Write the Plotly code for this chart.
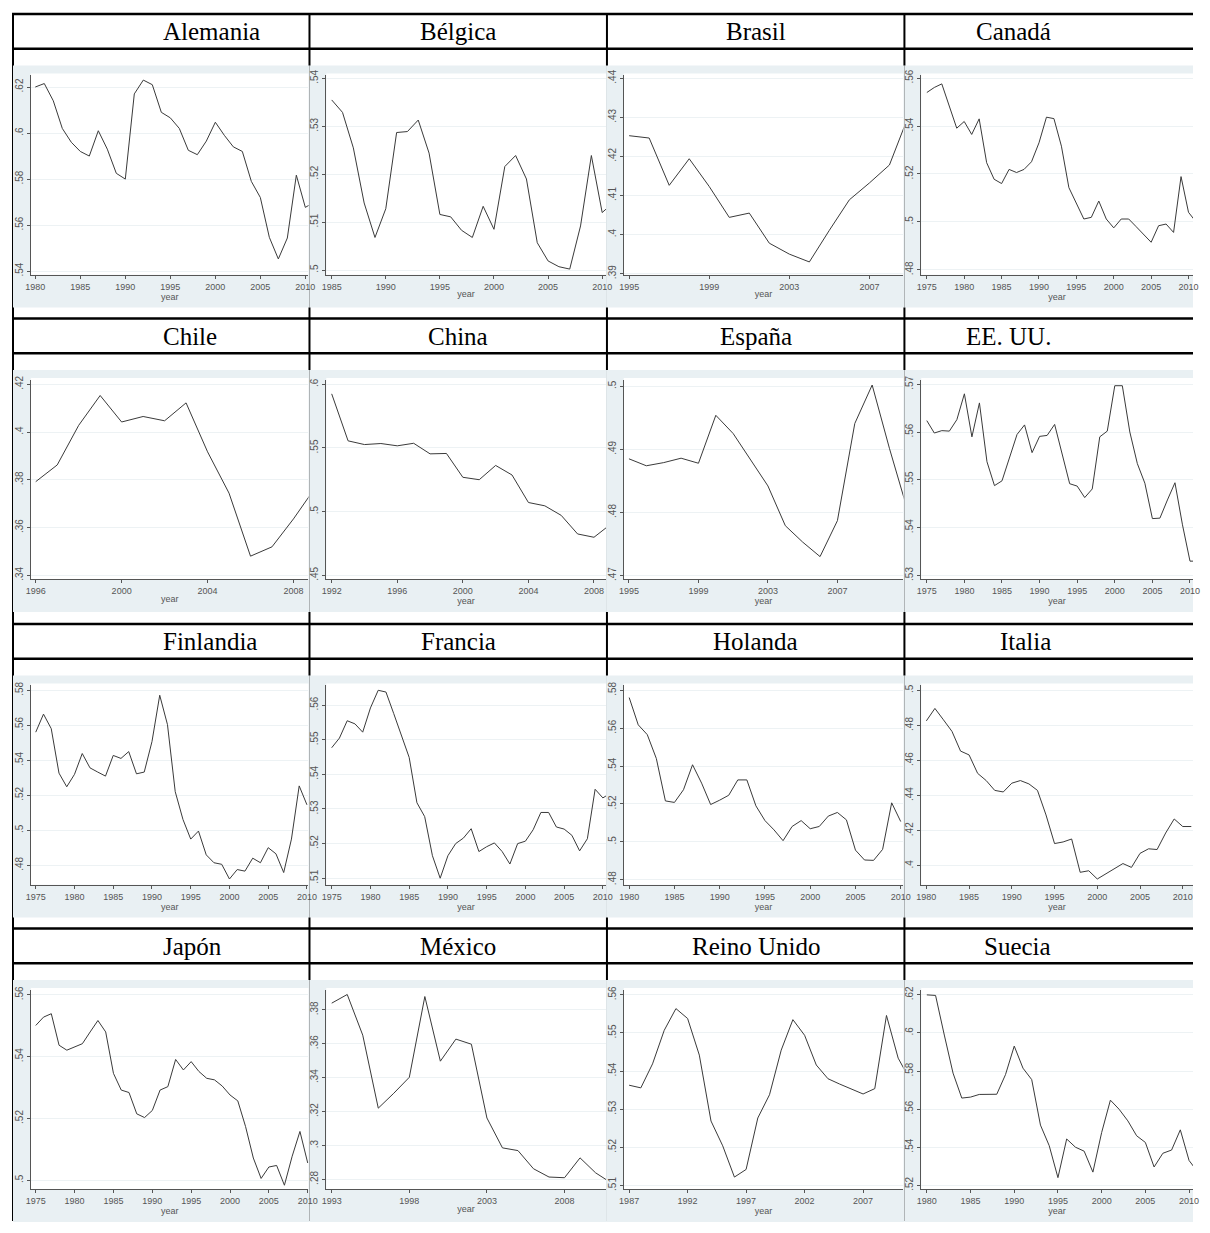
import plotly.graph_objects as go

W, H = 1194, 1217   # fits inside the window next to the page's 8px body margin
OFF = 8

# --- data ---
countries = ["Alemania", "Bélgica", "Brasil", "Canadá",
             "Chile", "China", "España", "EE. UU.",
             "Finlandia", "Francia", "Holanda", "Italia",
             "Japón", "México", "Reino Unido", "Suecia"]
start_years = [1980, 1985, 1995, 1975,
               1996, 1992, 1995, 1975,
               1975, 1975, 1980, 1980,
               1975, 1993, 1987, 1980]

alemania = [.620, .6215, .614, .602, .596, .592, .590, .601, .593, .5825, .580,
            .617, .623, .621, .609, .6066, .602, .5925, .5906, .5965, .6047,
            .599, .594, .592, .579, .572, .5547, .5453, .5544, .5817, .5677, .570]
belgica = [.5355, .5329, .5255, .514, .5068, .5128, .5287, .5289, .5313, .5244,
           .5116, .5111, .5083, .5068, .5133, .5085, .5216, .5239, .519, .5057,
           .5019, .5007, .5002, .5092, .5239, .512, .514]
brasil = [.4253, .4247, .4126, .4194, .4123, .4044, .4055, .3978, .395, .393,
          .4011, .4089, .4132, .4178, .431]
canada = [.554, .5561, .5576, .5482, .5391, .5419, .5365, .543, .5247, .5178,
          .516, .5219, .5206, .5219, .5251, .533, .5437, .5431, .5316, .5143,
          .5074, .5012, .5019, .5087, .5012, .4975, .5012, .5012, .498, .4948,
          .4915, .4984, .4991, .4956, .5189, .504, .500]
chile = [.3792, .3862, .4028, .4153, .4042, .4065, .4047, .4122, .3917, .3744,
         .348, .3519, .3636, .3765]
china = [.5925, .5556, .5527, .5535, .5517, .5537, .5454, .5457, .527, .5251,
         .5363, .5288, .5072, .5046, .4971, .4825, .4799, .490]
espana = [.4885, .4874, .4879, .4886, .4878, .4954, .4925, .4883, .4842, .4779,
          .4753, .473, .4787, .4941, .5002, .4901, .4807]
eeuu = [.5624, .5598, .5603, .5602, .5626, .568, .559, .5661, .5538, .5488,
        .5498, .5545, .5595, .5615, .5557, .5591, .5593, .5616, .5555, .5492,
        .5487, .5463, .5481, .559, .5602, .5697, .5697, .560, .5534, .5493,
        .5419, .542, .5458, .5494, .5406, .533, .533]
finlandia = [.5561, .5664, .5581, .5327, .5249, .532, .5439, .5357, .5333, .531,
             .5428, .5411, .545, .5323, .5333, .5507, .5772, .5604, .5221, .5062,
             .495, .4996, .486, .4815, .4806, .4722, .4776, .4767, .4841, .4815,
             .4901, .4866, .4759, .495, .5254, .5146]
francia = [.5477, .5505, .5555, .5546, .5522, .5592, .5643, .5638, .5576, .5515,
           .5449, .5318, .5278, .5165, .510, .5165, .520, .5216, .5243, .5177,
           .5191, .5202, .5177, .5141, .520, .5207, .524, .529, .529, .5248,
           .5242, .5224, .5179, .5214, .5357, .5332, .5346]
holanda = [.5762, .5618, .5566, .544, .5216, .5208, .5275, .5407, .531, .5197,
           .522, .5246, .5327, .5327, .519, .5112, .5063, .5006, .5081, .5112,
           .5069, .5081, .5136, .5155, .5116, .4956, .4904, .4902, .496, .5206,
           .5107]
italia = [.4826, .4897, .4832, .4766, .4654, .4632, .4527, .4486, .443, .4421,
          .4471, .4486, .4467, .443, .429, .4127, .4136, .4153, .3963, .3972,
          .3925, .3953, .3985, .4013, .3991, .4071, .4097, .4093, .4187, .4267,
          .4224, .4224]
japon = [.5501, .5528, .5539, .5437, .5421, .5432, .5442, .548, .5517, .548,
         .5346, .5292, .5284, .5215, .5203, .5226, .5292, .5303, .5391, .5357,
         .5384, .5352, .533, .5325, .5305, .5276, .5257, .5174, .5072, .5006,
         .5043, .5048, .4984, .5078, .5158, .5056]
mexico = [.3839, .389, .365, .322, .3308, .3402, .3878, .3497, .3627, .3597,
          .3162, .2986, .297, .2863, .2814, .281, .2927, .2839, .278]
reino_unido = [.5363, .5356, .5419, .5507, .5564, .5538, .5442, .5269, .5204,
               .5122, .5142, .5277, .5338, .5455, .5535, .5494, .5416, .538,
               .5366, .5353, .534, .5354, .5546, .5434, .5378]
suecia = [.620, .6197, .5989, .5789, .5658, .5663, .5677, .5678, .5678, .5781,
          .5931, .5815, .5755, .5516, .5408, .524, .5443, .540, .5379, .5269,
          .5477, .5647, .5599, .5538, .546, .5425, .5296, .5368, .5385, .5491,
          .533, .527]
series = [alemania, belgica, brasil, canada, chile, china, espana, eeuu,
          finlandia, francia, holanda, italia, japon, mexico, reino_unido, suecia]

x_ticks = [list(range(1980, 2011, 5)), list(range(1985, 2011, 5)),
           [1995, 1999, 2003, 2007], list(range(1975, 2011, 5)),
           [1996, 2000, 2004, 2008], [1992, 1996, 2000, 2004, 2008],
           [1995, 1999, 2003, 2007], list(range(1975, 2011, 5)),
           list(range(1975, 2011, 5)), list(range(1975, 2011, 5)),
           list(range(1980, 2011, 5)), list(range(1980, 2011, 5)),
           list(range(1975, 2011, 5)), [1993, 1998, 2003, 2008],
           [1987, 1992, 1997, 2002, 2007], list(range(1980, 2011, 5))]
y_ticks = [[.54, .56, .58, .60, .62], [.50, .51, .52, .53, .54],
           [.39, .40, .41, .42, .43, .44], [.48, .50, .52, .54, .56],
           [.34, .36, .38, .40, .42], [.45, .50, .55, .60],
           [.47, .48, .49, .50], [.53, .54, .55, .56, .57],
           [.48, .50, .52, .54, .56, .58], [.51, .52, .53, .54, .55, .56],
           [.48, .50, .52, .54, .56, .58], [.40, .42, .44, .46, .48, .50],
           [.50, .52, .54, .56], [.28, .30, .32, .34, .36, .38],
           [.51, .52, .53, .54, .55, .56], [.52, .54, .56, .58, .60, .62]]
x_ranges = [[1979.5, 2010.35], [1984.5, 2010.35], [1994.73, 2008.7], [1974.25, 2010.6],
            [1995.77, 2008.7], [1991.67, 2008.73], [1994.7, 2010.8], [1974.26, 2010.4],
            [1974.36, 2010.2], [1974.3, 2010.4], [1979.4, 2010.3], [1979.4, 2011.2],
            [1974.36, 2010.1], [1992.65, 2010.67], [1986.54, 2010.45], [1979.36, 2010.45]]
y_ranges = [[.5384, .625], [.499, .5406], [.3897, .4407], [.4779, .5611],
            [.3383, .4218], [.4469, .6034], [.4694, .501], [.5292, .5709],
            [.4689, .5828], [.5081, .5657], [.4773, .5826], [.3892, .5028],
            [.4971, .5616], [.2742, .3917], [.509, .5613], [.5179, .6226]]

# --- layout geometry (pixels in the reference picture) ---
col_lines = [8, 308, 609, 910, 1210]
row_tops = [8, 315, 623, 930]


def px(x):
    return (x - OFF) / W


def py(y):
    return 1 - (y - OFF) / H


def fmt(v):
    s = f"{v:g}"
    return s[1:] if s.startswith("0") else s


fig = go.Figure()
shapes, annotations = [], []

for top in row_tops:
    for y in (top, top + 35):
        shapes.append(dict(type="line", xref="paper", yref="paper", layer="below",
                           x0=px(col_lines[0] - 1), x1=1, y0=py(y), y1=py(y),
                           line=dict(color="black", width=2.5)))
for x in col_lines[:4]:
    shapes.append(dict(type="line", xref="paper", yref="paper", layer="below",
                       x0=px(x), x1=px(x), y0=py(row_tops[0]), y1=0,
                       line=dict(color="black", width=2)))

axis_font = dict(family="Arial", size=9, color="#555")
for i, name in enumerate(countries):
    r, c = divmod(i, 4)
    top = row_tops[r]
    left, right = col_lines[c], col_lines[c + 1]
    ax0 = left + (18 if c == 0 else 17)
    shapes.append(dict(type="rect", xref="paper", yref="paper", layer="below",
                       x0=px(left), x1=min(1, px(right)), y0=py(top + 296), y1=py(top + 52),
                       fillcolor="#e9f0f3", line=dict(width=0)))
    shapes.append(dict(type="rect", xref="paper", yref="paper", layer="below",
                       x0=px(ax0), x1=min(1, px(right - 1)), y0=py(top + 263), y1=py(top + 60),
                       fillcolor="white", line=dict(width=0)))
    annotations.append(dict(text=name, xref="paper", yref="paper", yanchor="middle",
                            x=px((left + right) / 2), y=py(top + 18), showarrow=False,
                            font=dict(family="Liberation Serif", size=25, color="black")))
    years = list(range(start_years[i], start_years[i] + len(series[i])))
    n = i + 1
    xa, ya = f"x{n}", f"y{n}"
    fig.add_trace(go.Scatter(x=years, y=series[i], mode="lines", xaxis=xa, yaxis=ya,
                             line=dict(color="#3a3a3a", width=1), showlegend=False))
    fig.layout[f"xaxis{n}"] = dict(
        domain=[px(ax0), min(1, px(right - 1))], anchor=ya, range=x_ranges[i],
        tickvals=x_ticks[i], ticks="outside", ticklen=3, tickcolor="#555",
        showline=True, linecolor="#555", linewidth=1, showgrid=False, zeroline=False,
        tickfont=axis_font, title=dict(text="year", font=axis_font, standoff=0))
    yt = y_ticks[i]
    fig.layout[f"yaxis{n}"] = dict(
        domain=[py(top + 263), py(top + 62)], anchor=xa, range=y_ranges[i],
        tickvals=yt, ticktext=[fmt(v) for v in yt], tickangle=-90,
        ticks="outside", ticklen=3, tickcolor="#555",
        showline=True, linecolor="#555", linewidth=1,
        showgrid=True, gridcolor="#edf2f4", zeroline=False,
        tickfont=dict(family="Arial", size=10, color="#555"))

fig.update_layout(width=W, height=H, autosize=False,
                  margin=dict(l=0, r=0, t=0, b=0),
                  paper_bgcolor="white", plot_bgcolor="white",
                  shapes=shapes, annotations=annotations)
fig.write_html("out.html")
